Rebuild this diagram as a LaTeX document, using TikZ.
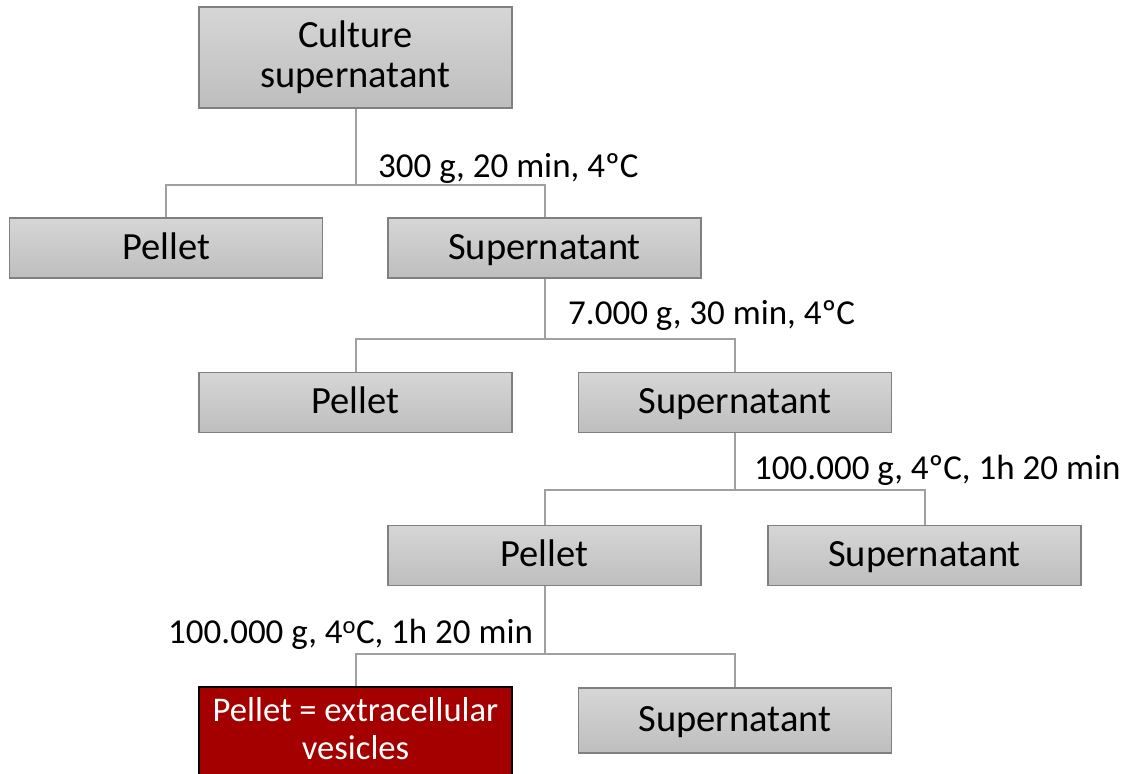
\documentclass[tikz,border=0pt]{standalone}
\usepackage{fontspec}
\setmainfont{Carlito}
\definecolor{boxtop}{RGB}{214,214,214}
\definecolor{boxbot}{RGB}{190,190,190}
\definecolor{boxline}{RGB}{128,128,128}
\definecolor{connline}{RGB}{160,160,160}
\definecolor{evred}{RGB}{165,0,0}
\tikzset{
  graybox/.style={rectangle, draw=boxline, line width=1.2pt, top color=boxtop, bottom color=boxbot,
    minimum width=313pt, minimum height=60pt, inner sep=0pt,
    font=\fontsize{38.5}{40}\selectfont, text height=26pt, text depth=4pt},
  cultbox/.style={graybox, text height=, text depth=, align=center, minimum height=101pt},
  redbox/.style={rectangle, draw=black, line width=2pt, fill=evred, minimum width=313pt, minimum height=110pt, inner sep=0pt},
  redtext/.style={text=white, align=center, inner sep=0pt, font=\fontsize{34.6}{38}\selectfont},
  conn/.style={draw=connline, line width=2pt},
  steplabel/.style={anchor=base west, inner sep=0pt, font=\fontsize{35}{40}\selectfont}
}
\begin{document}
\begin{tikzpicture}[x=1pt,y=-1pt]
\useasboundingbox (0,0) rectangle (1123,773);
\clip (0,0) rectangle (1123,773);
\fill[white] (0,0) rectangle (1123,773);
% nodes
\node[cultbox] (c0) at (355.5,57.5) {Culture\\supernatant};
\node[graybox] (p1) at (166,248) {Pellet};
\node[graybox] (s1) at (544.5,248) {Supernatant};
\node[graybox] (p2) at (355.5,402.5) {Pellet};
\node[graybox] (s2) at (735,402.5) {Supernatant};
\node[graybox] (p3) at (544.5,555.5) {Pellet};
\node[graybox] (s3) at (924.5,555.5) {Supernatant};
\node[redbox] (ev) at (355.5,742) {};
\node[redtext, anchor=north] (evt) at (355.5,697) {Pellet = extracellular\\vesicles};
\node[graybox, minimum height=65pt] (s4) at (735,720.5) {Supernatant};
% junctions
\coordinate (j1) at (355.5,185);
\coordinate (j2) at (544.5,339);
\coordinate (j3) at (735,490);
\coordinate (j4) at (544.5,654);
% connectors
\draw[conn] (c0.south) -- (j1) (p1.north) |- (j1) -| (s1.north);
\draw[conn] (s1.south) -- (j2) (p2.north) |- (j2) -| (s2.north);
\draw[conn] (s2.south) -- (j3) (p3.north) |- (j3) -| (s3.north);
\draw[conn] (p3.south) -- (j4) (ev.north) |- (j4) -| (s4.north);
% labels
\node[steplabel] (l1) at (378,177) {300 g, 20 min, 4ºC};
\node[steplabel] (l2) at (568,324) {7.000 g, 30 min, 4ºC};
\node[steplabel] (l3) at (754,479) {100.000 g, 4ºC, 1h 20 min};
\node[steplabel] (l4) at (168,643) {100.000 g, 4\textsuperscript{o}C, 1h 20 min};
\end{tikzpicture}
\end{document}
